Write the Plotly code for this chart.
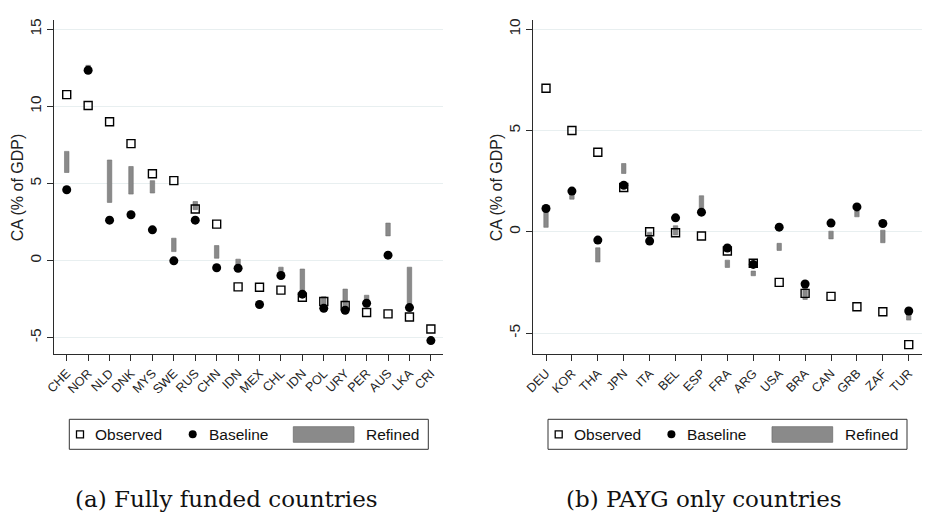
import plotly.graph_objects as go

# ---- data -------------------------------------------------------------
countries_a = ["CHE", "NOR", "NLD", "DNK", "MYS", "SWE", "RUS", "CHN", "IDN",
               "MEX", "CHL", "IDN", "POL", "URY", "PER", "AUS", "LKA", "CRI"]
observed_a = [10.76, 10.06, 9.00, 7.58, 5.63, 5.18, 3.34, 2.36, -1.71,
              -1.73, -1.92, -2.38, -2.66, -2.92, -3.37, -3.46, -3.66, -4.44]
baseline_a = [4.59, 12.34, 2.62, 2.97, 1.99, -0.02, 2.62, -0.47, -0.50,
              -2.85, -0.97, -2.18, -3.10, -3.22, -2.77, 0.35, -3.05, -5.19]
refined_lo_a = [5.71, 12.34, 3.77, 4.31, 4.38, 0.58, 3.30, 0.15, -0.47,
                -3.03, -0.85, -2.30, -2.85, -3.05, -2.80, 1.60, -2.99, -5.30]
refined_hi_a = [7.08, 12.66, 6.52, 6.10, 5.18, 1.45, 3.83, 0.97, 0.09,
                -2.78, -0.43, -0.55, -2.34, -1.85, -2.25, 2.43, -0.43, -5.05]

countries_b = ["DEU", "KOR", "THA", "JPN", "ITA", "BEL", "ESP", "FRA", "ARG",
               "USA", "BRA", "CAN", "GRB", "ZAF", "TUR"]
observed_b = [7.09, 5.00, 3.93, 2.19, 0.00, -0.05, -0.21, -0.95, -1.55,
              -2.50, -3.04, -3.19, -3.70, -3.95, -5.57]
baseline_b = [1.15, 2.01, -0.41, 2.30, -0.46, 0.69, 0.97, -0.80, -1.61,
              0.23, -2.58, 0.43, 1.23, 0.41, -3.91]
refined_lo_b = [0.22, 1.61, -1.49, 2.88, -0.41, -0.16, 1.15, -1.76, -2.17,
                -0.92, -3.34, -0.35, 0.74, -0.54, -4.36]
refined_hi_b = [1.15, 2.01, -0.79, 3.37, -0.03, 0.30, 1.78, -1.40, -1.94,
                -0.57, -2.68, 0.03, 1.10, 0.08, -3.91]

yticks_a = [-5, 0, 5, 10, 15]
yticks_b = [-5, 0, 5, 10]
y_title = "CA (% of GDP)"
legend_labels = ["Observed", "Baseline", "Refined"]
captions = ["(a) Fully funded countries", "(b) PAYG only countries"]

# ---- styling ----------------------------------------------------------
W, H = 926, 516
SANS = "Liberation Sans, Arial, sans-serif"
SERIF = "DejaVu Serif, serif"
AXIS_COL = "#2b2b2b"
GRID_COL = "#e8eff0"
BAR_FILL = "#8a8a8a"
BAR_EDGE = "#707070"


def px_x(p):
    return p / W


def px_y(p):
    return 1 - p / H


fig = go.Figure()


def add_panel(cats, obs, base, lo, hi, xa, ya, bar_w):
    idx = list(range(len(cats)))
    fig.add_trace(go.Scatter(
        x=idx, y=obs, mode="markers", xaxis=xa, yaxis=ya, showlegend=False,
        marker=dict(symbol="square-open", size=8, color="black",
                    line=dict(width=1.4, color="black")),
        name=legend_labels[0]))
    fig.add_trace(go.Scatter(
        x=idx, y=base, mode="markers", xaxis=xa, yaxis=ya, showlegend=False,
        marker=dict(symbol="circle", size=9, color="black"),
        name=legend_labels[1]))
    fig.add_trace(go.Bar(
        x=idx, y=[h - l for h, l in zip(hi, lo)], base=lo, width=bar_w,
        xaxis=xa, yaxis=ya, showlegend=False, name=legend_labels[2],
        marker=dict(color=BAR_FILL, line=dict(color=BAR_EDGE, width=0.6))))


add_panel(countries_a, observed_a, baseline_a, refined_lo_a, refined_hi_a,
          "x", "y", 0.21)
add_panel(countries_b, observed_b, baseline_b, refined_lo_b, refined_hi_b,
          "x2", "y2", 0.17)


def xaxis_cfg(cats, dom, rng, anchor):
    return dict(
        domain=dom, range=rng, anchor=anchor, tickmode="array",
        tickvals=list(range(len(cats))), ticktext=cats, tickangle=-45,
        ticks="outside", ticklen=6, tickwidth=1, tickcolor=AXIS_COL,
        showline=True, linecolor=AXIS_COL, linewidth=1, showgrid=False,
        zeroline=False, tickfont=dict(family=SANS, size=12.5, color="#222"),
        fixedrange=True)


def yaxis_cfg(ticks, dom, rng, anchor):
    return dict(
        domain=dom, range=rng, anchor=anchor, tickmode="array",
        tickvals=ticks, ticktext=[str(t) for t in ticks], tickangle=-90,
        ticks="outside", ticklen=6, tickwidth=1, tickcolor=AXIS_COL,
        showline=True, linecolor=AXIS_COL, linewidth=1, showgrid=True,
        gridcolor=GRID_COL, gridwidth=1.2, zeroline=False,
        tickfont=dict(family=SANS, size=15.5, color="#222"), fixedrange=True)


ydom = [px_y(354.3), px_y(20)]
fig.update_layout(
    width=W, height=H, margin=dict(l=0, r=0, t=0, b=0, autoexpand=False),
    paper_bgcolor="white", plot_bgcolor="white",
    barmode="overlay", showlegend=False,
    xaxis=xaxis_cfg(countries_a, [px_x(54.3), px_x(443.3)], [-0.58, 17.58], "y"),
    yaxis=yaxis_cfg(yticks_a, ydom, [-6.08, 15.6], "x"),
    xaxis2=xaxis_cfg(countries_b, [px_x(533.3), px_x(921.7)], [-0.49, 14.5], "y2"),
    yaxis2=yaxis_cfg(yticks_b, ydom, [-6.05, 10.46], "x2"),
)

shapes = []
annotations = []

for off, xdom in [(0.0, 54.3), (478.7, 533.3)]:
    # y-axis title
    annotations.append(dict(
        text=y_title, xref="paper", yref="paper", x=px_x(xdom - 37),
        y=px_y(187), textangle=-90, showarrow=False,
        font=dict(family=SANS, size=16, color="#222"),
        xanchor="center", yanchor="middle"))

    # legend frame
    shapes.append(dict(type="rect", xref="paper", yref="paper",
                       x0=px_x(69.3 + off), x1=px_x(428.3 + off),
                       y0=px_y(449.3), y1=px_y(419.3),
                       line=dict(color="#333", width=1), fillcolor="white"))
    cy = 434.3
    # observed key
    shapes.append(dict(type="rect", xref="paper", yref="paper",
                       x0=px_x(76.5 + off), x1=px_x(83.5 + off),
                       y0=px_y(cy + 3.5), y1=px_y(cy - 3.5),
                       line=dict(color="black", width=1.3), fillcolor="white"))
    # baseline key
    shapes.append(dict(type="circle", xref="paper", yref="paper",
                       x0=px_x(188.7 + off), x1=px_x(196.7 + off),
                       y0=px_y(cy + 4), y1=px_y(cy - 4),
                       line=dict(color="black", width=0), fillcolor="black"))
    # refined key
    shapes.append(dict(type="rect", xref="paper", yref="paper",
                       x0=px_x(293.3 + off), x1=px_x(354 + off),
                       y0=px_y(442.3), y1=px_y(426.7),
                       line=dict(color=BAR_EDGE, width=0.8), fillcolor=BAR_FILL))
    for lbl, lx in zip(legend_labels, [93.3, 206.7, 364]):
        annotations.append(dict(
            text=lbl, xref="paper", yref="paper", x=px_x(lx + off),
            y=px_y(cy), showarrow=False, xanchor="left", yanchor="middle",
            font=dict(family=SANS, size=15.5, color="#111")))

for cap, cx in zip(captions, [226, 704]):
    annotations.append(dict(
        text=cap, xref="paper", yref="paper", x=px_x(cx), y=px_y(499),
        showarrow=False, xanchor="center", yanchor="middle",
        font=dict(family=SERIF, size=23, color="#111")))

fig.update_layout(shapes=shapes, annotations=annotations)

fig.write_html("out.html")
